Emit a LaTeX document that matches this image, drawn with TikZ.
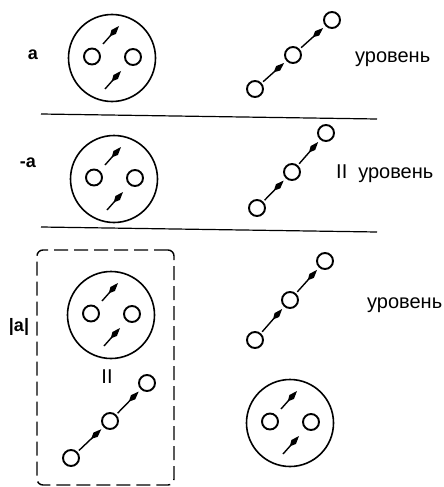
\documentclass[tikz,border=0pt]{standalone}
\usepackage{fontspec}
\setmainfont{Liberation Sans}
\usetikzlibrary{arrows.meta}
\tikzset{
  big/.style={circle,draw,line width=1.6pt,minimum size=87pt,inner sep=0pt},
  small/.style={circle,draw,line width=1.9pt,minimum size=16pt,inner sep=0pt},
  spin/.style={line width=1.4pt,-{Kite[length=14pt,width=6pt,inset=6pt]}},
  lbl/.style={font=\fontsize{20}{22}\selectfont,inner sep=0pt},
  slbl/.style={font=\fontsize{18}{20}\selectfont\bfseries,inner sep=0pt},
  sep/.style={line width=1.2pt},
  dbox/.style={draw,dash pattern=on 14pt off 6pt,line width=1.4pt,rounded corners=6pt}
}
\newcommand\atomdraw[3]{%
  \node[big] (#1) at (#2,#3) {};
  \node[small] (#1l) at ([shift={(-20,-1.5)}]#1.center) {};
  \node[small] (#1r) at ([shift={(21,-1)}]#1.center) {};
  \coordinate (#1ua) at ([shift={(-9,-14)}]#1.center);
  \coordinate (#1ub) at ([shift={(7,-32)}]#1.center);
  \coordinate (#1da) at ([shift={(-7,31)}]#1.center);
  \coordinate (#1db) at ([shift={(9,13)}]#1.center);
  \draw[spin] (#1ua) -- (#1ub);
  \draw[spin] (#1da) -- (#1db);
}
\newcommand\chaindraw[7]{%
  \node[small] (#1a) at (#2,#3) {};
  \node[small] (#1b) at (#4,#5) {};
  \node[small] (#1c) at (#6,#7) {};
  \draw[spin,shorten <=2pt,shorten >=3pt] (#1a) -- (#1b);
  \draw[spin,shorten <=2pt,shorten >=3pt] (#1b) -- (#1c);
}
\begin{document}
\begin{tikzpicture}[x=1pt,y=-1pt]
  \useasboundingbox (0,0) rectangle (444,487);
  % row 1
  \node[slbl] (la) at (33,55) {a};
  \atomdraw{A}{112}{58}
  \chaindraw{P}{255}{89}{293}{55}{332}{20}
  \node[lbl,anchor=base west] (t1) at (355,63) {уровень};
  \coordinate (s1a) at (41,114);
  \coordinate (s1b) at (377,119);
  \draw[sep] (s1a) -- (s1b);
  % row 2
  \node[slbl] (lma) at (28,163) {-a};
  \atomdraw{B}{114}{179}
  \chaindraw{Q}{257}{208}{292}{172}{326}{133}
  \node[lbl,anchor=base west] (t2) at (336,178) {II\hspace{11pt}уровень};
  \coordinate (s2a) at (41,227);
  \coordinate (s2b) at (377,232);
  \draw[sep] (s2a) -- (s2b);
  % row 3
  \node[dbox,minimum width=137pt,minimum height=235pt] (bx) at (105.5,367.5) {};
  \node[slbl] (labs) at (19,327) {|a|};
  \atomdraw{C}{111}{315}
  \node[lbl] (eq) at (107,377) {II};
  \chaindraw{R}{71}{458}{110}{421}{147}{383}
  \chaindraw{S}{255}{340}{290}{300}{325}{261}
  \node[lbl,anchor=base west] (t3) at (367,308) {уровень};
  \atomdraw{D}{290}{423}
\end{tikzpicture}
\end{document}
